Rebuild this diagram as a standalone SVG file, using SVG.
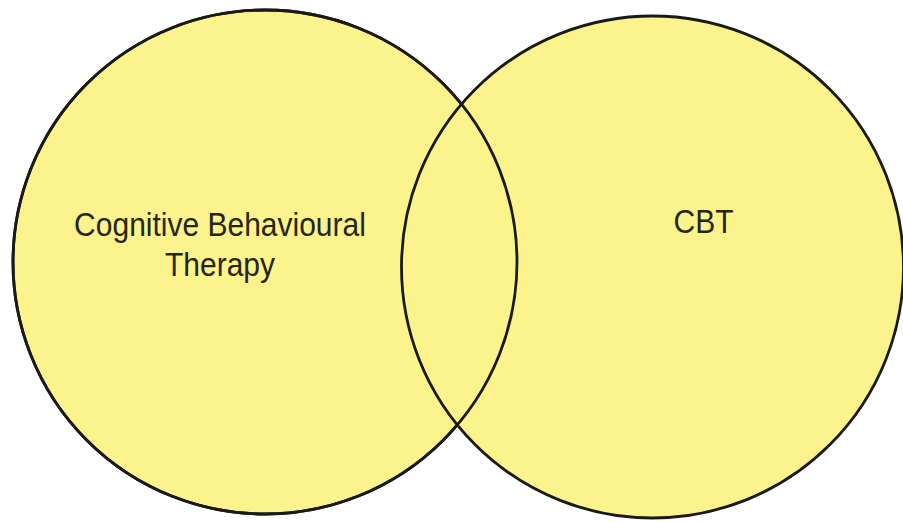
<svg xmlns="http://www.w3.org/2000/svg" width="903" height="522" viewBox="0 0 903 522">
  <style>
    .set { fill: #FCF38C; stroke: #1a1a1a; stroke-width: 2.8; }
    .outline { fill: none; stroke: #1a1a1a; stroke-width: 2.8; }
    .lbl { font-family: "Liberation Sans", Arial, sans-serif; font-size: 30px; fill: #262618; text-anchor: middle; }
  </style>
  <rect x="0" y="0" width="903" height="522" fill="#ffffff"/>
  <g id="set-left">
    <circle class="set" cx="265" cy="262" r="252"/>
  </g>
  <g id="set-right">
    <circle class="set" cx="652.5" cy="267" r="251"/>
  </g>
  <g id="set-left-outline">
    <circle class="outline" cx="265" cy="262" r="252"/>
  </g>
  <g id="labels">
    <text class="lbl" transform="translate(220,236) scale(1,1.12)">Cognitive Behavioural</text>
    <text class="lbl" transform="translate(220,276) scale(1,1.12)">Therapy</text>
    <text class="lbl" transform="translate(703.5,233) scale(1,1.12)">CBT</text>
  </g>
</svg>
